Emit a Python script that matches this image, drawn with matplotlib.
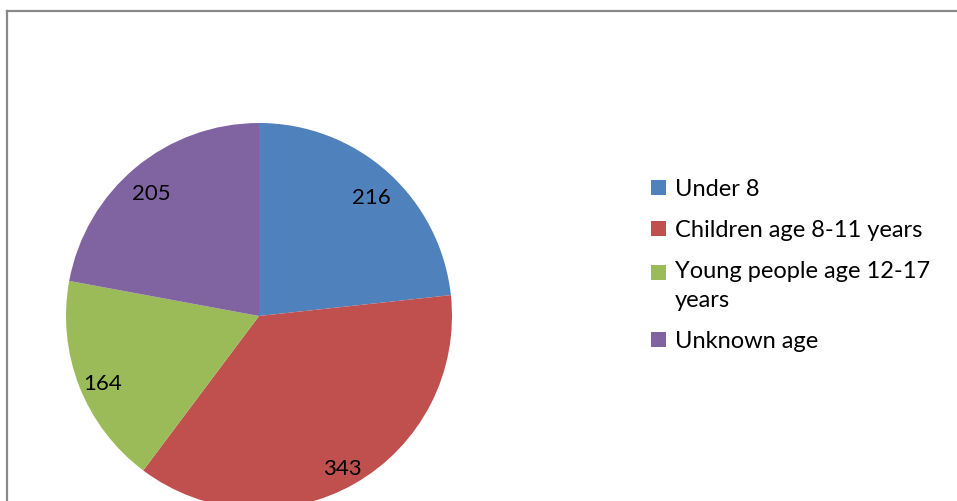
import matplotlib
matplotlib.use("Agg")
import matplotlib.pyplot as plt
from matplotlib.lines import Line2D
from matplotlib.patches import Rectangle
from matplotlib.legend_handler import HandlerPatch

categories = ["Under 8", "Children age 8-11 years", "Young people age 12-17\nyears", "Unknown age"]
values = [216, 343, 164, 205]
colors = ["#4F81BD", "#C0504D", "#9BBB59", "#8064A2"]

plt.rcParams["font.family"] = ["Lato", "DejaVu Sans"]

W, H = 957, 501
fig = plt.figure(figsize=(W / 100, H / 100), dpi=100)

# pie centre (259, 316) px from top, radius 193 px
cx, cy, r = 259, 316, 193
ax = fig.add_axes([(cx - r) / W, (H - cy - r) / H, 2 * r / W, 2 * r / H])
total = sum(values)
wedges, texts, autotexts = ax.pie(
    values,
    colors=colors,
    startangle=90,
    counterclock=False,
    autopct=lambda p: f"{round(p * total / 100)}",
    pctdistance=0.87,
    textprops={"fontsize": 16, "color": "black"},
)
for t in autotexts:
    x, y = t.get_position()
    t.set_position((x, y - 0.035))
ax.set_xlim(-1, 1)
ax.set_ylim(-1, 1)
ax.set_aspect("equal")
ax.axis("off")


def first_line_square(legend, orig_handle, xdescent, ydescent, width, height, fontsize):
    # keep the swatch next to the first line of a wrapped label
    return Rectangle((-xdescent, -ydescent + 10), width, height)


leg = fig.legend(
    wedges,
    categories,
    loc="upper left",
    bbox_to_anchor=(651 / W, 1 - 179 / H),
    frameon=False,
    fontsize=17,
    handlelength=0.62,
    handleheight=0.62,
    handletextpad=0.4,
    labelspacing=0.85,
    borderaxespad=0,
    borderpad=0,
    handler_map={wedges[2]: HandlerPatch(patch_func=first_line_square)},
)
for t in leg.get_texts():
    t.set_linespacing(1.45)

# chart area border (left and top visible)
border = dict(color="#898989", linewidth=1.6, transform=fig.transFigure)
fig.lines.append(Line2D([7 / W, 7 / W], [0, 1 - 10.5 / H], **border))
fig.lines.append(Line2D([7 / W, 1.05], [1 - 10.5 / H, 1 - 10.5 / H], **border))

fig.savefig("out.png", dpi=100, facecolor="white")
